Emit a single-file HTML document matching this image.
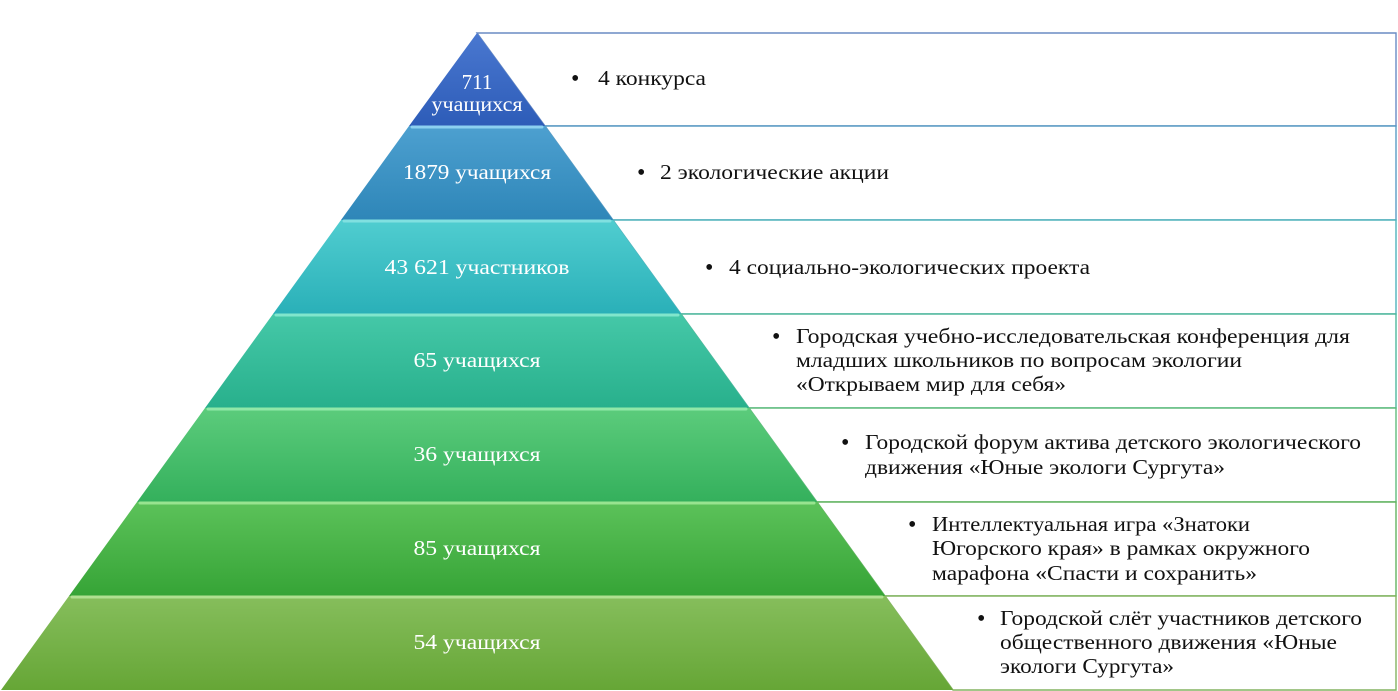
<!DOCTYPE html>
<html><head><meta charset="utf-8"><style>
html,body{margin:0;padding:0;background:#fff;}
svg{display:block;}
text{font-family:"Liberation Serif","Times New Roman",serif;font-size:21px;}
.w{fill:#fff;text-anchor:middle;}
.b{fill:#111;}
.bl{font-size:24px;}
</style></head><body>
<svg width="1398" height="691" viewBox="0 0 1398 691" xmlns="http://www.w3.org/2000/svg" font-family="Liberation Serif, Times New Roman, serif">
<defs>
<linearGradient id="g1" x1="0" y1="0" x2="0" y2="1"><stop offset="0" stop-color="#4a78d0"/><stop offset="1" stop-color="#2d5cb8"/></linearGradient>
<linearGradient id="g2" x1="0" y1="0" x2="0" y2="1"><stop offset="0" stop-color="#4da0d0"/><stop offset="1" stop-color="#2e86b8"/></linearGradient>
<linearGradient id="g3" x1="0" y1="0" x2="0" y2="1"><stop offset="0" stop-color="#50cdd0"/><stop offset="1" stop-color="#2ab0b8"/></linearGradient>
<linearGradient id="g4" x1="0" y1="0" x2="0" y2="1"><stop offset="0" stop-color="#45c8a8"/><stop offset="1" stop-color="#28b08c"/></linearGradient>
<linearGradient id="g5" x1="0" y1="0" x2="0" y2="1"><stop offset="0" stop-color="#5ccc7c"/><stop offset="1" stop-color="#34b05c"/></linearGradient>
<linearGradient id="g6" x1="0" y1="0" x2="0" y2="1"><stop offset="0" stop-color="#5cc25a"/><stop offset="1" stop-color="#36a436"/></linearGradient>
<linearGradient id="g7" x1="0" y1="0" x2="0" y2="1"><stop offset="0" stop-color="#86be5c"/><stop offset="1" stop-color="#66a636"/></linearGradient>
</defs>
<g fill="#fff" stroke-width="1.4">
<polygon points="477,33 1396,33 1396,126 545,126" stroke="#6a8cc4"/>
<polygon points="545,126 1396,126 1396,220 613,220" stroke="#5a9cc4"/>
<polygon points="613,220 1396,220 1396,314 681,314" stroke="#50b4bc"/>
<polygon points="681,314 1396,314 1396,408 749,408" stroke="#50b89c"/>
<polygon points="749,408 1396,408 1396,502 817,502" stroke="#60bc7c"/>
<polygon points="817,502 1396,502 1396,596 885,596" stroke="#64b460"/>
<polygon points="885,596 1396,596 1396,690 953,690" stroke="#84b460"/>
</g>
<polygon points="477,33 545,126 409,126" fill="url(#g1)"/>
<polygon points="409,126 545,126 613,220 341,220" fill="url(#g2)"/>
<polygon points="341,220 613,220 681,314 273,314" fill="url(#g3)"/>
<polygon points="273,314 681,314 749,408 205,408" fill="url(#g4)"/>
<polygon points="205,408 749,408 817,502 137,502" fill="url(#g5)"/>
<polygon points="137,502 817,502 885,596 69,596" fill="url(#g6)"/>
<polygon points="69,596 885,596 953,690 1,690" fill="url(#g7)"/>
<g stroke-width="3" stroke-linecap="round">
<line x1="412" y1="127" x2="542" y2="127" stroke="#8cd0f0"/>
<line x1="344" y1="221" x2="610" y2="221" stroke="#80e0e0"/>
<line x1="276" y1="315" x2="678" y2="315" stroke="#80e6cc"/>
<line x1="208" y1="409" x2="746" y2="409" stroke="#90e8a8"/>
<line x1="140" y1="503" x2="814" y2="503" stroke="#98e490"/>
<line x1="72" y1="597" x2="882" y2="597" stroke="#b0e090"/>
</g>
<text class="w" x="477" y="89">711</text>
<text class="w" x="477" y="111" textLength="91" lengthAdjust="spacingAndGlyphs">учащихся</text>
<text class="w" x="477" y="179" textLength="148" lengthAdjust="spacingAndGlyphs">1879 учащихся</text>
<text class="w" x="477" y="274" textLength="185" lengthAdjust="spacingAndGlyphs">43 621 участников</text>
<text class="w" x="477" y="367" textLength="127" lengthAdjust="spacingAndGlyphs">65 учащихся</text>
<text class="w" x="477" y="461" textLength="127" lengthAdjust="spacingAndGlyphs">36 учащихся</text>
<text class="w" x="477" y="555" textLength="127" lengthAdjust="spacingAndGlyphs">85 учащихся</text>
<text class="w" x="477" y="649" textLength="127" lengthAdjust="spacingAndGlyphs">54 учащихся</text>
<g class="b">
<text class="bl" x="571" y="86">•</text>
<text class="bl" x="637" y="180">•</text>
<text class="bl" x="705" y="275">•</text>
<text class="bl" x="772" y="344">•</text>
<text class="bl" x="841" y="450">•</text>
<text class="bl" x="908" y="532">•</text>
<text class="bl" x="977" y="626">•</text>
</g>
<g class="b">
<text x="598" y="85" textLength="108" lengthAdjust="spacingAndGlyphs">4 конкурса</text>
<text x="660" y="179" textLength="229" lengthAdjust="spacingAndGlyphs">2 экологические акции</text>
<text x="729" y="274" textLength="361" lengthAdjust="spacingAndGlyphs">4 социально-экологических проекта</text>
<text x="796" y="343" textLength="554" lengthAdjust="spacingAndGlyphs">Городская учебно-исследовательская  конференция для</text>
<text x="796" y="367" textLength="446" lengthAdjust="spacingAndGlyphs">младших школьников по вопросам экологии</text>
<text x="796" y="391" textLength="270" lengthAdjust="spacingAndGlyphs">«Открываем мир для себя»</text>
<text x="865" y="449" textLength="496" lengthAdjust="spacingAndGlyphs">Городской форум актива детского экологического</text>
<text x="865" y="474" textLength="360" lengthAdjust="spacingAndGlyphs">движения «Юные экологи Сургута»</text>
<text x="932" y="531" textLength="318" lengthAdjust="spacingAndGlyphs">Интеллектуальная игра «Знатоки</text>
<text x="932" y="555" textLength="378" lengthAdjust="spacingAndGlyphs">Югорского края» в рамках окружного</text>
<text x="932" y="580" textLength="325" lengthAdjust="spacingAndGlyphs">марафона «Спасти и сохранить»</text>
<text x="1000" y="625" textLength="362" lengthAdjust="spacingAndGlyphs">Городской слёт участников детского</text>
<text x="1000" y="649" textLength="337" lengthAdjust="spacingAndGlyphs">общественного движения «Юные</text>
<text x="1000" y="673" textLength="174" lengthAdjust="spacingAndGlyphs">экологи Сургута»</text>
</g>
</svg>
</body></html>
